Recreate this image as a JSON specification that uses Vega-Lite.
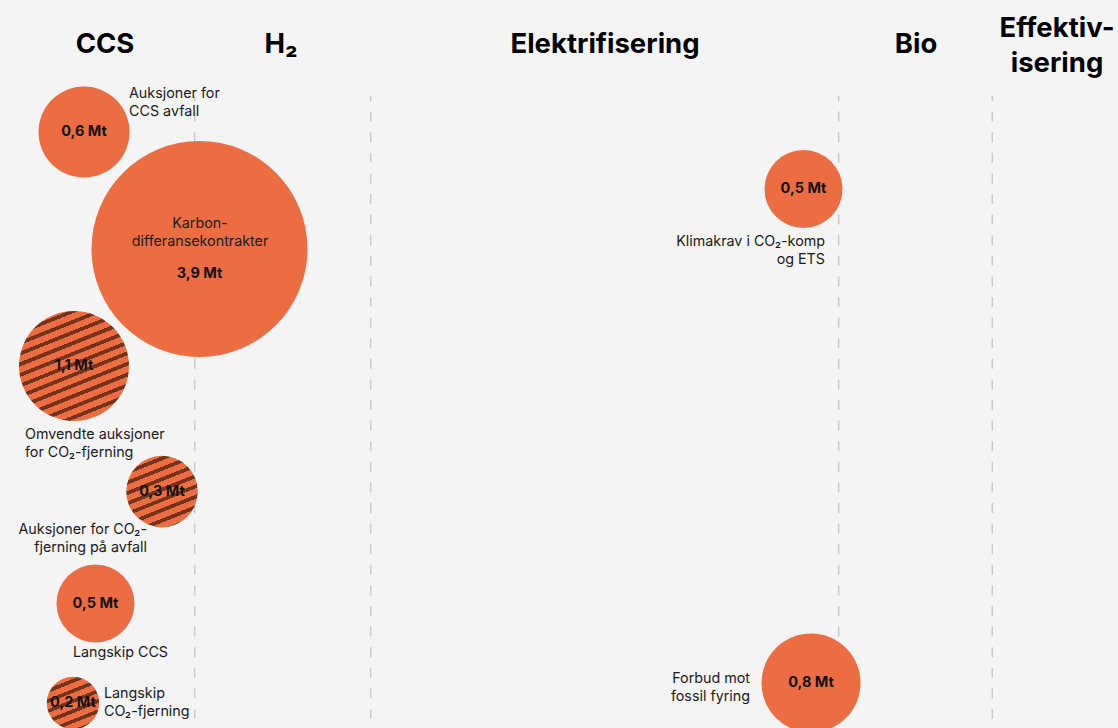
{
  "$schema": "https://vega.github.io/schema/vega-lite/v6.json",
  "width": 1118,
  "height": 728,
  "padding": 0,
  "autosize": {"type": "none"},
  "background": "#f4f4f4",
  "config": {"view": {"stroke": null}, "font": "Inter"},
  "datasets": {
    "columns": [
      {"name": ["CCS"], "x": 105, "y": 53},
      {"name": ["H₂"], "x": 281, "y": 53},
      {"name": ["Elektrifisering"], "x": 605, "y": 53},
      {"name": ["Bio"], "x": 916, "y": 53},
      {"name": ["Effektiv-", "isering"], "x": 1057, "y": 36.5}
    ],
    "dividers": [
      {"x": 194.7, "top": 96, "bottom": 728},
      {"x": 370.7, "top": 96, "bottom": 728},
      {"x": 838.7, "top": 96, "bottom": 728},
      {"x": 992.3, "top": 96, "bottom": 728}
    ],
    "bubbles": [
      {"id": "a", "column": "CCS", "value": 0.6, "valueLabel": "0,6 Mt", "hatched": false, "x": 84, "y": 132, "label": ["Auksjoner for", "CCS avfall"], "lx": 129, "ly": 98, "side": "left"},
      {"id": "b", "column": "CCS", "value": 3.9, "valueLabel": "3,9 Mt", "hatched": false, "x": 199.5, "y": 249, "label": ["Karbon-", "differansekontrakter"], "lx": 200, "ly": 228, "side": "center"},
      {"id": "c", "column": "CCS", "value": 1.1, "valueLabel": "1,1 Mt", "hatched": true, "x": 74, "y": 366, "label": ["Omvendte auksjoner", "for CO₂-fjerning"], "lx": 25, "ly": 439, "side": "left"},
      {"id": "d", "column": "CCS", "value": 0.3, "valueLabel": "0,3 Mt", "hatched": true, "x": 162, "y": 491.5, "label": ["Auksjoner for CO₂-", "fjerning på avfall"], "lx": 147, "ly": 534, "side": "right"},
      {"id": "e", "column": "CCS", "value": 0.5, "valueLabel": "0,5 Mt", "hatched": false, "x": 95.5, "y": 603.5, "label": ["Langskip CCS"], "lx": 73, "ly": 657, "side": "left"},
      {"id": "f", "column": "CCS", "value": 0.2, "valueLabel": "0,2 Mt", "hatched": true, "x": 73, "y": 703, "label": ["Langskip", "CO₂-fjerning"], "lx": 104, "ly": 698, "side": "left"},
      {"id": "g", "column": "Bio", "value": 0.5, "valueLabel": "0,5 Mt", "hatched": false, "x": 803.5, "y": 189, "label": ["Klimakrav i CO₂-komp", "og ETS"], "lx": 825, "ly": 246, "side": "right"},
      {"id": "h", "column": "Bio", "value": 0.8, "valueLabel": "0,8 Mt", "hatched": false, "x": 811, "y": 683, "label": ["Forbud mot", "fossil fyring"], "lx": 750, "ly": 683, "side": "right"}
    ]
  },
  "encoding": {
    "x": {"field": "x", "type": "quantitative", "scale": {"domain": [0, 1118], "nice": false, "zero": false}, "axis": null},
    "y": {"field": "y", "type": "quantitative", "scale": {"domain": [0, 728], "nice": false, "zero": false, "reverse": true}, "axis": null}
  },
  "layer": [
    {
      "data": {"name": "dividers"},
      "mark": {"type": "rule", "color": "#c9c9c9", "strokeWidth": 1.5, "strokeDash": [10, 10.6], "strokeDashOffset": 5},
      "encoding": {
        "y": {"field": "top", "type": "quantitative"},
        "y2": {"field": "bottom"}
      }
    },
    {
      "data": {"name": "bubbles"},
      "transform": [{"filter": "!datum.hatched"}],
      "mark": {"type": "point", "shape": "circle", "filled": true, "fill": "#ed6d42", "opacity": 1, "strokeWidth": 0},
      "encoding": {
        "size": {"field": "value", "type": "quantitative", "legend": null,
          "scale": {"type": "linear", "zero": false, "domain": [0.2, 0.3, 0.5, 0.6, 1.1, 3.9], "range": [2756, 5112, 6084, 8281, 12100, 46656]}}
      }
    },
    {
      "data": {"name": "bubbles"},
      "transform": [{"filter": "datum.id === 'c'"}],
      "mark": {"type": "point", "shape": "circle", "filled": true, "opacity": 1, "strokeWidth": 0,
        "fill": {"gradient": "linear", "x1": 0.3, "y1": 0, "x2": 0.7, "y2": 1, "stops": [
          {"offset": 0, "color": "#ed6d42"}, {"offset": 0.0517, "color": "#ed6d42"}, {"offset": 0.0517, "color": "#74331a"}, {"offset": 0.0833, "color": "#74331a"},
          {"offset": 0.0833, "color": "#ed6d42"}, {"offset": 0.1350, "color": "#ed6d42"}, {"offset": 0.1350, "color": "#74331a"}, {"offset": 0.1667, "color": "#74331a"},
          {"offset": 0.1667, "color": "#ed6d42"}, {"offset": 0.2183, "color": "#ed6d42"}, {"offset": 0.2183, "color": "#74331a"}, {"offset": 0.25, "color": "#74331a"},
          {"offset": 0.25, "color": "#ed6d42"}, {"offset": 0.3017, "color": "#ed6d42"}, {"offset": 0.3017, "color": "#74331a"}, {"offset": 0.3333, "color": "#74331a"},
          {"offset": 0.3333, "color": "#ed6d42"}, {"offset": 0.3850, "color": "#ed6d42"}, {"offset": 0.3850, "color": "#74331a"}, {"offset": 0.4167, "color": "#74331a"},
          {"offset": 0.4167, "color": "#ed6d42"}, {"offset": 0.4683, "color": "#ed6d42"}, {"offset": 0.4683, "color": "#74331a"}, {"offset": 0.5, "color": "#74331a"},
          {"offset": 0.5, "color": "#ed6d42"}, {"offset": 0.5517, "color": "#ed6d42"}, {"offset": 0.5517, "color": "#74331a"}, {"offset": 0.5833, "color": "#74331a"},
          {"offset": 0.5833, "color": "#ed6d42"}, {"offset": 0.6350, "color": "#ed6d42"}, {"offset": 0.6350, "color": "#74331a"}, {"offset": 0.6667, "color": "#74331a"},
          {"offset": 0.6667, "color": "#ed6d42"}, {"offset": 0.7183, "color": "#ed6d42"}, {"offset": 0.7183, "color": "#74331a"}, {"offset": 0.75, "color": "#74331a"},
          {"offset": 0.75, "color": "#ed6d42"}, {"offset": 0.8017, "color": "#ed6d42"}, {"offset": 0.8017, "color": "#74331a"}, {"offset": 0.8333, "color": "#74331a"},
          {"offset": 0.8333, "color": "#ed6d42"}, {"offset": 0.8850, "color": "#ed6d42"}, {"offset": 0.8850, "color": "#74331a"}, {"offset": 0.9167, "color": "#74331a"},
          {"offset": 0.9167, "color": "#ed6d42"}, {"offset": 0.9683, "color": "#ed6d42"}, {"offset": 0.9683, "color": "#74331a"}, {"offset": 1, "color": "#74331a"}
        ]}},
      "encoding": {
        "size": {"field": "value", "type": "quantitative", "legend": null,
          "scale": {"type": "linear", "zero": false, "domain": [0.2, 0.3, 0.5, 0.6, 1.1, 3.9], "range": [2756, 5112, 6084, 8281, 12100, 46656]}}
      }
    },
    {
      "data": {"name": "bubbles"},
      "transform": [{"filter": "datum.id === 'd'"}],
      "mark": {"type": "point", "shape": "circle", "filled": true, "opacity": 1, "strokeWidth": 0,
        "fill": {"gradient": "linear", "x1": 0.3, "y1": 0, "x2": 0.7, "y2": 1, "stops": [
          {"offset": 0, "color": "#ed6d42"}, {"offset": 0.0775, "color": "#ed6d42"}, {"offset": 0.0775, "color": "#74331a"}, {"offset": 0.125, "color": "#74331a"},
          {"offset": 0.125, "color": "#ed6d42"}, {"offset": 0.2025, "color": "#ed6d42"}, {"offset": 0.2025, "color": "#74331a"}, {"offset": 0.25, "color": "#74331a"},
          {"offset": 0.25, "color": "#ed6d42"}, {"offset": 0.3275, "color": "#ed6d42"}, {"offset": 0.3275, "color": "#74331a"}, {"offset": 0.375, "color": "#74331a"},
          {"offset": 0.375, "color": "#ed6d42"}, {"offset": 0.4525, "color": "#ed6d42"}, {"offset": 0.4525, "color": "#74331a"}, {"offset": 0.5, "color": "#74331a"},
          {"offset": 0.5, "color": "#ed6d42"}, {"offset": 0.5775, "color": "#ed6d42"}, {"offset": 0.5775, "color": "#74331a"}, {"offset": 0.625, "color": "#74331a"},
          {"offset": 0.625, "color": "#ed6d42"}, {"offset": 0.7025, "color": "#ed6d42"}, {"offset": 0.7025, "color": "#74331a"}, {"offset": 0.75, "color": "#74331a"},
          {"offset": 0.75, "color": "#ed6d42"}, {"offset": 0.8275, "color": "#ed6d42"}, {"offset": 0.8275, "color": "#74331a"}, {"offset": 0.875, "color": "#74331a"},
          {"offset": 0.875, "color": "#ed6d42"}, {"offset": 0.9525, "color": "#ed6d42"}, {"offset": 0.9525, "color": "#74331a"}, {"offset": 1, "color": "#74331a"}
        ]}},
      "encoding": {
        "size": {"field": "value", "type": "quantitative", "legend": null,
          "scale": {"type": "linear", "zero": false, "domain": [0.2, 0.3, 0.5, 0.6, 1.1, 3.9], "range": [2756, 5112, 6084, 8281, 12100, 46656]}}
      }
    },
    {
      "data": {"name": "bubbles"},
      "transform": [{"filter": "datum.id === 'f'"}],
      "mark": {"type": "point", "shape": "circle", "filled": true, "opacity": 1, "strokeWidth": 0,
        "fill": {"gradient": "linear", "x1": 0.3, "y1": 0, "x2": 0.7, "y2": 1, "stops": [
          {"offset": 0, "color": "#ed6d42"}, {"offset": 0.1033, "color": "#ed6d42"}, {"offset": 0.1033, "color": "#74331a"}, {"offset": 0.1667, "color": "#74331a"},
          {"offset": 0.1667, "color": "#ed6d42"}, {"offset": 0.2700, "color": "#ed6d42"}, {"offset": 0.2700, "color": "#74331a"}, {"offset": 0.3333, "color": "#74331a"},
          {"offset": 0.3333, "color": "#ed6d42"}, {"offset": 0.4367, "color": "#ed6d42"}, {"offset": 0.4367, "color": "#74331a"}, {"offset": 0.5, "color": "#74331a"},
          {"offset": 0.5, "color": "#ed6d42"}, {"offset": 0.6033, "color": "#ed6d42"}, {"offset": 0.6033, "color": "#74331a"}, {"offset": 0.6667, "color": "#74331a"},
          {"offset": 0.6667, "color": "#ed6d42"}, {"offset": 0.7700, "color": "#ed6d42"}, {"offset": 0.7700, "color": "#74331a"}, {"offset": 0.8333, "color": "#74331a"},
          {"offset": 0.8333, "color": "#ed6d42"}, {"offset": 0.9367, "color": "#ed6d42"}, {"offset": 0.9367, "color": "#74331a"}, {"offset": 1, "color": "#74331a"}
        ]}},
      "encoding": {
        "size": {"field": "value", "type": "quantitative", "legend": null,
          "scale": {"type": "linear", "zero": false, "domain": [0.2, 0.3, 0.5, 0.6, 1.1, 3.9], "range": [2756, 5112, 6084, 8281, 12100, 46656]}}
      }
    },
    {
      "data": {"name": "bubbles"},
      "transform": [{"filter": "datum.id !== 'b'"}],
      "mark": {"type": "text", "font": "Inter", "fontWeight": 700, "fontSize": 14.5, "color": "#111111", "align": "center", "baseline": "middle"},
      "encoding": {"text": {"field": "valueLabel"}}
    },
    {
      "data": {"name": "bubbles"},
      "transform": [{"filter": "datum.id === 'b'"}],
      "mark": {"type": "text", "font": "Inter", "fontWeight": 700, "fontSize": 14.5, "color": "#111111", "align": "center", "baseline": "middle", "dy": 25},
      "encoding": {"text": {"field": "valueLabel"}}
    },
    {
      "data": {"name": "bubbles"},
      "transform": [{"filter": "datum.side === 'left'"}],
      "mark": {"type": "text", "font": "Inter", "fontSize": 14.3, "color": "#1a1a1a", "align": "left", "baseline": "alphabetic", "lineHeight": 18},
      "encoding": {
        "x": {"field": "lx", "type": "quantitative"},
        "y": {"field": "ly", "type": "quantitative"},
        "text": {"field": "label"}
      }
    },
    {
      "data": {"name": "bubbles"},
      "transform": [{"filter": "datum.side === 'right'"}],
      "mark": {"type": "text", "font": "Inter", "fontSize": 14.3, "color": "#1a1a1a", "align": "right", "baseline": "alphabetic", "lineHeight": 18},
      "encoding": {
        "x": {"field": "lx", "type": "quantitative"},
        "y": {"field": "ly", "type": "quantitative"},
        "text": {"field": "label"}
      }
    },
    {
      "data": {"name": "bubbles"},
      "transform": [{"filter": "datum.side === 'center'"}],
      "mark": {"type": "text", "font": "Inter", "fontSize": 14.3, "color": "#1a1a1a", "align": "center", "baseline": "alphabetic", "lineHeight": 18},
      "encoding": {
        "x": {"field": "lx", "type": "quantitative"},
        "y": {"field": "ly", "type": "quantitative"},
        "text": {"field": "label"}
      }
    },
    {
      "data": {"name": "columns"},
      "mark": {"type": "text", "font": "Inter", "fontWeight": 700, "fontSize": 27.5, "color": "#000000", "align": "center", "baseline": "alphabetic", "lineHeight": 35},
      "encoding": {"text": {"field": "name"}}
    }
  ]
}
